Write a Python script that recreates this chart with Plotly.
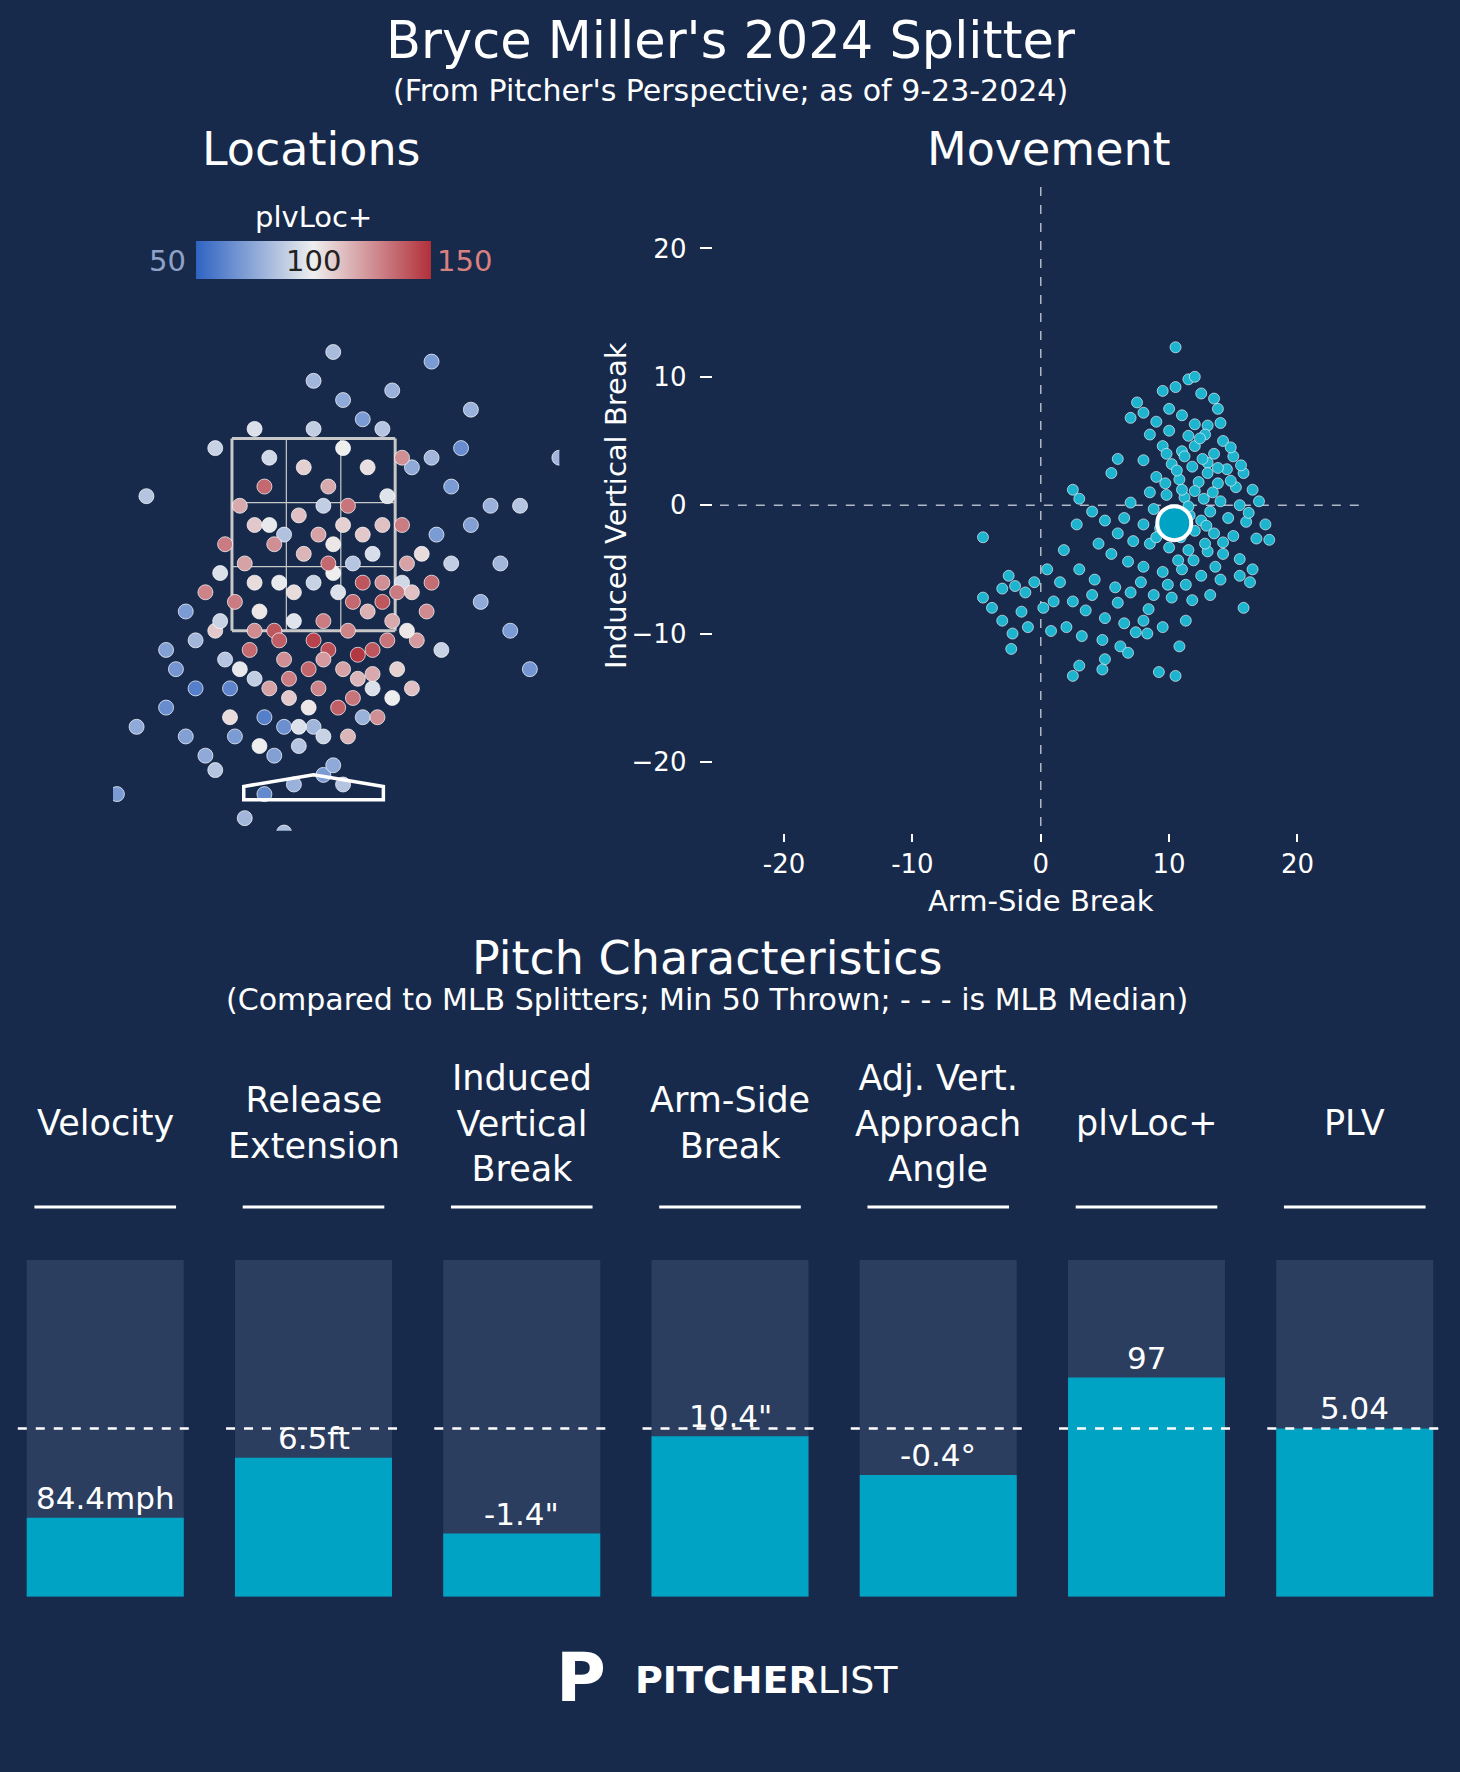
import plotly.graph_objects as go

W, H = 1460, 1772
BG = "#172a4b"
FONT = "DejaVu Sans"
def px(x): return x / 1292
def py(y): return 1 - y / 1568

# ---------- data ----------
loc_pts = [(-2.0,-0.2,70),(-1.8,0.5,75),(-1.7,2.9,85),(-1.5,1.3,72),(-1.5,0.7,65),(-1.3,1.7,70),(-1.4,1.1,68),(-1.2,1.4,80),(-1.2,0.9,60),(-1.1,0.2,75),(-1.0,3.4,90),(-0.95,2.1,95),(-0.9,1.2,85),(-0.8,0.4,70),(-0.85,0.9,62),(-0.7,-0.45,80),(-0.6,1.0,88),(-0.5,0.6,60),(-0.4,0.2,72),(-0.3,0.5,66),(-0.5,-0.2,64),(-0.2,-0.1,78),(-0.15,0.3,85),(0.0,0.5,80),(0.1,0.0,70),(0.1,0.4,90),(0.2,0.1,75),(0.3,-0.1,85),(0.5,0.6,78),(0.6,0.9,95),(0.0,4.1,80),(0.3,3.9,75),(0.5,3.7,70),(0.7,3.6,85),(0.8,4.0,78),(1.2,4.3,70),(1.0,3.2,75),(1.2,3.3,80),(1.4,3.0,70),(1.5,3.4,65),(1.6,2.6,72),(1.8,2.8,78),(1.9,2.2,80),(2.0,1.5,70),(2.1,2.8,85),(2.2,1.1,68),(2.5,3.3,80),(1.7,1.8,75),(1.3,1.3,90),(1.4,2.2,88),(1.25,2.5,70),(-1.0,0.05,85),(-0.3,-0.6,82),(0.9,2.0,92),(0.0,3.6,88),(-0.6,3.6,95),
(-0.8,1.8,130),(-0.7,2.2,120),(-0.6,2.6,110),(-0.5,3.0,135),(-0.4,1.5,140),(-0.3,1.2,125),(-0.2,1.9,105),(-0.1,2.3,115),(0.0,1.4,145),(0.1,1.6,130),(0.2,2.1,100),(0.3,1.1,120),(0.4,1.8,135),(0.5,2.5,110),(0.6,1.3,140),(0.7,2.0,125),(0.8,1.6,118),(0.9,2.6,130),(1.0,1.9,112),(-0.65,1.3,135),(-0.45,0.9,120),(-0.25,0.8,110),(0.05,0.9,128),(0.25,0.7,138),(0.45,1.0,115),(0.65,0.6,125),(0.85,1.1,108),(1.05,1.4,122),(1.1,2.3,105),(-0.9,2.4,130),(-0.55,1.7,102),(-0.35,2.0,98),(-0.15,2.7,112),(0.15,3.0,118),(0.35,2.8,132),(0.55,3.2,104),(0.75,2.9,96),(0.9,3.3,125),(-0.1,3.2,108),(0.3,3.4,100),(-0.45,3.3,92),(-1.1,1.9,128),(-1.0,1.5,110),(-0.75,1.1,98),(-0.05,1.1,136),(0.15,1.3,142),(0.35,1.5,128),(0.55,1.7,116),(0.75,1.4,132),(-0.2,1.6,96),(0.0,2.0,90),(0.2,2.4,102),(0.4,2.2,85),(0.6,2.3,94),(0.1,2.8,88),(-0.3,2.5,84),(-0.6,2.0,105),(0.8,0.8,100),(1.0,0.9,112),(-0.85,0.6,105),(-0.55,0.3,100),(0.35,0.4,115),(-0.05,0.7,102),(0.7,1.8,140),(0.45,1.25,148),(-0.35,1.4,138),(0.95,2.2,120),(1.15,1.7,126),(0.25,1.9,95),(-0.75,2.8,118),
(-0.4,2.4,125),(0.15,2.2,135),(0.5,2.0,140),(-0.25,1.0,130),(0.1,1.2,122),(0.6,1.05,118),(-0.6,1.5,126),(0.3,2.6,108),(0.85,1.9,130),(-0.15,0.5,95),(0.4,0.8,132),(0.95,1.5,102),(-0.45,2.6,98),(0.05,2.5,120),(0.7,2.6,112),(1.2,2.0,134),(-0.95,1.6,90),(-1.3,0.4,72),(1.6,3.8,78),(0.2,4.4,82)]
loc_x = [p[0] for p in loc_pts]
loc_z = [p[1] for p in loc_pts]
loc_v = [p[2] for p in loc_pts]

mov_pts = [(10.5,12.3),(11.5,9.8),(9.5,8.9),(10.5,9.2),(12.5,8.7),(13.5,8.3),(7.5,8.0),(8.0,7.2),(10.0,7.5),(11.0,7.0),(9.0,6.5),(12.0,6.3),(13.0,6.2),(14.0,6.4),(7.0,6.8),(8.5,5.5),(10.0,5.8),(11.5,5.4),(12.8,5.5),(14.2,5.0),(9.5,4.6),(11.0,4.2),(12.0,4.6),(13.5,4.0),(15.0,3.8),(8.0,3.5),(6.0,3.6),(10.2,3.2),(11.8,3.0),(13.0,3.3),(14.5,2.8),(15.8,2.5),(9.0,2.2),(10.8,2.0),(12.3,1.8),(13.8,1.7),(15.2,1.4),(16.5,1.2),(8.5,1.0),(9.8,0.8),(11.2,0.6),(12.7,0.5),(14.0,0.3),(15.5,0.0),(17.0,0.3),(7.0,0.2),(8.8,-0.3),(10.0,-0.6),(11.6,-0.8),(13.2,-0.5),(14.6,-1.0),(16.0,-1.3),(17.5,-1.5),(6.5,-1.0),(8.0,-1.5),(9.3,-1.8),(12.0,-2.0),(13.5,-2.2),(15.0,-2.4),(16.8,-2.6),(17.8,-2.7),(4.0,-0.5),(5.0,-1.2),(6.0,-2.2),(7.2,-2.8),(8.5,-3.0),(10.0,-3.3),(11.5,-3.5),(13.0,-3.6),(14.2,-3.8),(15.5,-4.2),(16.5,-5.0),(4.5,-3.0),(5.5,-3.8),(6.8,-4.4),(8.0,-4.8),(9.5,-5.2),(11.0,-5.0),(12.5,-5.5),(14.0,-5.8),(16.3,-6.0),(3.0,-5.0),(4.2,-5.8),(5.8,-6.4),(7.0,-6.8),(8.8,-7.0),(10.2,-7.2),(11.8,-7.4),(13.2,-7.0),(15.8,-8.0),(2.5,-7.5),(3.5,-8.2),(5.0,-8.8),(6.5,-9.2),(8.0,-9.0),(9.5,-9.5),(11.3,-9.0),(2.0,-9.5),(3.2,-10.2),(4.8,-10.5),(6.2,-11.0),(8.3,-10.0),(10.8,-11.0),(3.0,-12.5),(5.0,-12.0),(6.8,-11.5),(2.5,-13.3),(4.8,-12.8),(9.2,-13.0),(10.5,-13.3),(-4.5,-2.5),(-4.5,-7.2),(-3.8,-8.0),(-3.0,-6.5),(-2.5,-5.5),(-2.0,-6.3),(-1.5,-8.3),(-3.0,-9.0),(-1.0,-9.5),(-2.2,-10.0),(-2.3,-11.2),(-0.5,-6.0),(0.5,-5.0),(1.0,-7.5),(0.8,-9.8),(0.2,-8.0),(1.8,-3.5),(2.8,-1.5),(2.5,1.2),(3.0,0.5),(5.5,2.5),(12.5,-1.2),(11.0,1.2),(13.0,2.5),(14.8,4.5),(9.8,4.0),(12.8,-3.0),(15.5,-5.5),(10.7,-4.3),(7.8,-6.0),(13.8,7.5),(12.0,10.0),
(11.2,3.8),(12.6,3.6),(13.8,2.9),(10.6,2.7),(12.0,1.1),(13.4,1.0),(14.8,1.9),(11.5,-0.1),(12.9,-1.6),(14.2,-2.9),(10.9,-2.5),(9.0,-2.5),(11.9,-4.3),(13.6,-4.8),(9.9,-6.2),(8.4,-8.1),(6.0,-7.6),(4.0,-7.0),(12.4,5.2),(9.7,1.7),(15.6,3.1),(16.2,-0.6),(11.3,-6.2),(7.4,-9.9),(1.5,-6.0),(-1.2,-6.8)]
mov_x = [p[0] for p in mov_pts]
mov_z = [p[1] for p in mov_pts]
avg_x, avg_z = [10.4], [-1.4]

metrics = ["Velocity", "Release<br>Extension", "Induced<br>Vertical<br>Break", "Arm-Side<br>Break",
           "Adj. Vert.<br>Approach<br>Angle", "plvLoc+", "PLV"]
pct = [0.235, 0.413, 0.188, 0.477, 0.362, 0.651, 0.50]
labels = ["84.4mph", "6.5ft", "-1.4\"", "10.4\"", "-0.4°", "97", "5.04"]

fig = go.Figure()

fig.add_trace(go.Scatter(x=loc_x, y=loc_z, mode="markers", xaxis="x", yaxis="y",
    marker=dict(size=15, color=loc_v, cmin=50, cmax=150,
        colorscale=[[0, "#2f63c2"], [0.5, "#eeeeee"], [1, "#b2303a"]],
        line=dict(color="white", width=0.7),
        colorbar=dict(orientation="h", x=px(277), xanchor="center", y=py(247), yanchor="bottom",
            len=208/1292, lenmode="fraction", thickness=38, outlinewidth=0, showticklabels=False,
            xpad=0, ypad=0, ticks="")),
    showlegend=False))

fig.add_trace(go.Scatter(x=mov_x, y=mov_z, mode="markers", xaxis="x2", yaxis="y2",
    marker=dict(size=11, color="#1db4cf", line=dict(color="white", width=0.6)), showlegend=False))
fig.add_trace(go.Scatter(x=avg_x, y=avg_z, mode="markers", xaxis="x2", yaxis="y2",
    marker=dict(size=34, color="#00a3c4", line=dict(color="white", width=4)), showlegend=False))

idx = list(range(len(metrics)))
BW = 0.754
fig.add_trace(go.Bar(x=idx, y=[1]*7, width=BW, marker=dict(color="#2c3e5f", line=dict(width=0)),
    xaxis="x3", yaxis="y3", showlegend=False))
fig.add_trace(go.Bar(x=idx, y=pct, width=BW, marker=dict(color="#00a3c4", line=dict(width=0)),
    xaxis="x3", yaxis="y3", showlegend=False))

shapes = []
zx = [-0.83, -0.277, 0.277, 0.83]
zz = [1.5, 2.1667, 2.8333, 3.5]
for v in zx:
    shapes.append(dict(type="line", xref="x", yref="y", x0=v, x1=v, y0=1.5, y1=3.5,
        line=dict(color="#c8c8c8", width=3 if v in (-0.83, 0.83) else 1.2), layer="below"))
for v in zz:
    shapes.append(dict(type="line", xref="x", yref="y", x0=-0.83, x1=0.83, y0=v, y1=v,
        line=dict(color="#c8c8c8", width=3 if v in (1.5, 3.5) else 1.2), layer="below"))
shapes.append(dict(type="path", xref="x", yref="y",
    path="M -0.71,-0.12 L 0,0.0 L 0.71,-0.12 L 0.71,-0.26 L -0.71,-0.26 Z",
    line=dict(color="white", width=3.5)))
shapes.append(dict(type="line", xref="x2", yref="y2", x0=0, x1=0, y0=-25, y1=25,
    line=dict(color="#b0b8c8", width=1.5, dash="dash"), layer="below"))
shapes.append(dict(type="line", xref="x2", yref="y2", x0=-25, x1=25, y0=0, y1=0,
    line=dict(color="#b0b8c8", width=1.5, dash="dash"), layer="below"))
for i in idx:
    shapes.append(dict(type="line", xref="x3", yref="y3", x0=i-0.42, x1=i+0.42, y0=0.5, y1=0.5,
        line=dict(color="white", width=2.5, dash="dash")))
    shapes.append(dict(type="line", xref="x3", yref="paper", x0=i-0.34, x1=i+0.34,
        y0=py(1068), y1=py(1068), line=dict(color="white", width=3)))

ann = []
def A(text, x, y, size, color="white", xanchor="center", **k):
    ann.append(dict(text=text, x=x, y=y, xref="paper", yref="paper", showarrow=False,
        xanchor=xanchor, yanchor="middle", font=dict(size=size, color=color, family=FONT), **k))
A("Bryce Miller's 2024 Splitter", 0.5, py(36), 51)
A("(From Pitcher's Perspective; as of 9-23-2024)", 0.5, py(80), 30)
A("Locations", px(276), py(132), 46)
A("Movement", px(928), py(132), 46)
A("Pitch Characteristics", px(626), py(848), 46)
A("(Compared to MLB Splitters; Min 50 Thrown; - - - is MLB Median)", px(626), py(884), 30)
A("plvLoc+", px(277), py(192), 29)
A("50", px(166), py(231), 29, "#8fa3c8", xanchor="right")
A("150", px(385), py(231), 29, "#d98080", xanchor="left")
A("100", px(277), py(231), 29, "#222222")
A("Arm-Side Break", px(921), py(797), 29)
A("Induced Vertical Break", px(545), py(447), 29, textangle=-90)
for i in idx:
    ann.append(dict(text=metrics[i], x=i, y=py(994), xref="x3", yref="paper", showarrow=False,
        xanchor="center", yanchor="middle", font=dict(size=35, color="white", family=FONT)))
    ann.append(dict(text=labels[i], x=i, y=pct[i], xref="x3", yref="y3", showarrow=False,
        xanchor="center", yanchor="bottom", yshift=0, font=dict(size=31, color="white", family=FONT)))
A("<b>P</b>", px(514), py(1484), 68)
A("<b>PITCHER</b>LIST", px(560), py(1487), 38, xanchor="left")

fig.update_layout(
    width=W, height=H, paper_bgcolor=BG, plot_bgcolor=BG, margin=dict(l=0, r=0, t=0, b=0),
    font=dict(family=FONT, color="white"), shapes=shapes, annotations=ann, barmode="overlay",
    xaxis=dict(domain=[px(100), px(495)], range=[-2.04, 2.5], visible=False),
    yaxis=dict(domain=[py(735), py(300)], range=[-0.58, 4.535], visible=False),
    xaxis2=dict(domain=[px(637), px(1205)], range=[-25, 25], showgrid=False, zeroline=False,
        showline=False, tickvals=[-20, -10, 0, 10, 20], ticktext=["-20", "-10", "0", "10", "20"],
        ticks="outside", ticklen=8, tickcolor="white", tickwidth=2, anchor="free", position=py(731)-0.004,
        tickfont=dict(size=26, color="white")),
    yaxis2=dict(domain=[py(731), py(163)], range=[-25, 25], showgrid=False, zeroline=False,
        showline=False, tickvals=[-20, -10, 0, 10, 20], ticktext=["−20 ", "−10 ", "0 ", "10 ", "20 "],
        ticks="outside", ticklen=12, tickcolor="white", tickwidth=2, anchor="free", position=px(630),
        tickfont=dict(size=26, color="white")),
    xaxis3=dict(domain=[px(1), px(1291)], range=[-0.5, 6.5], visible=False),
    yaxis3=dict(domain=[py(1413), py(1115)], range=[0, 1], visible=False),
)
fig.write_html("out.html", config={"displayModeBar": False})
with open("out.html", encoding="utf-8") as f:
    html = f.read()
html = html.replace("<body>", "<body style=\"margin:0;background:%s\">" % BG, 1)
with open("out.html", "w", encoding="utf-8") as f:
    f.write(html)
